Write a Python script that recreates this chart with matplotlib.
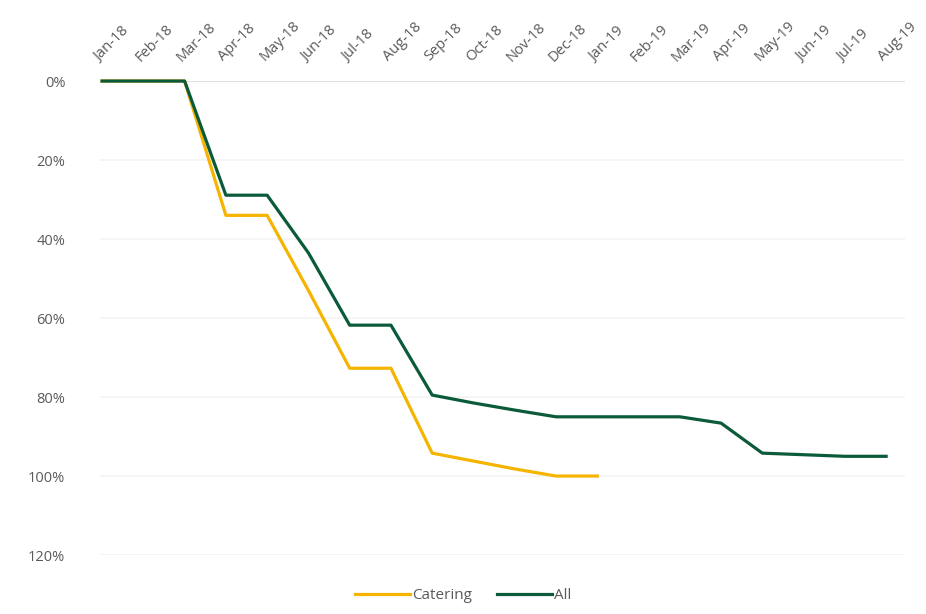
import matplotlib.pyplot as plt
from matplotlib.ticker import FuncFormatter

plt.rcParams['font.family'] = ['Open Sans', 'DejaVu Sans']

months = ["Jan-18", "Feb-18", "Mar-18", "Apr-18", "May-18", "Jun-18", "Jul-18",
          "Aug-18", "Sep-18", "Oct-18", "Nov-18", "Dec-18", "Jan-19", "Feb-19",
          "Mar-19", "Apr-19", "May-19", "Jun-19", "Jul-19", "Aug-19"]

# cumulative share (%) per month
catering = [0, 0, 0, 34, 34, 53, 72.7, 72.7, 94.2, 96.2, 98.2, 100, 100]
all_sites = [0, 0, 0, 28.9, 28.9, 43.5, 61.8, 61.8, 79.5, 81.5, 83.3, 85, 85,
             85, 85, 86.6, 94.2, 94.6, 95, 95]

yticks = [0, 20, 40, 60, 80, 100, 120]

fig = plt.figure(figsize=(9.26, 6.14), dpi=100)
ax = fig.add_axes([0.108, 0.096, 0.869, 0.772])

ax.plot(range(len(catering)), catering, color="#F5B400", lw=2.3,
        label="Catering", clip_on=False, zorder=3)
ax.plot(range(len(all_sites)), all_sites, color="#0B5B3A", lw=2.3,
        label="All", clip_on=False, zorder=4)

ax.set_ylim(120, 0)
ax.set_xlim(-0.05, len(months) - 1 + 0.45)
ax.set_yticks(yticks)
ax.yaxis.set_major_formatter(FuncFormatter(lambda v, p: f"{v:.0f}%"))

ax.set_xticks(range(len(months)))
ax.set_xticklabels(months, rotation=45, ha="left", va="bottom",
                   rotation_mode="anchor")
ax.xaxis.tick_top()

ax.tick_params(axis="both", length=0, labelsize=10.5, colors="#5a5a5a")
ax.tick_params(axis="x", pad=12)
ax.tick_params(axis="y", pad=25)
for lbl in ax.get_yticklabels():
    lbl.set_horizontalalignment("right")

for s in ax.spines.values():
    s.set_visible(False)

for v in yticks:
    ax.axhline(v, color="#d9d9d9" if v == 0 else "#f3f3f3", lw=1.2, zorder=1)

fig.legend(loc="lower center", ncol=2, frameon=False, fontsize=11,
           bbox_to_anchor=(0.5, -0.005), handlelength=3.6, columnspacing=1.6,
           handletextpad=0.15, labelcolor="#5a5a5a")

fig.savefig("out.png", dpi=100, facecolor="white")
